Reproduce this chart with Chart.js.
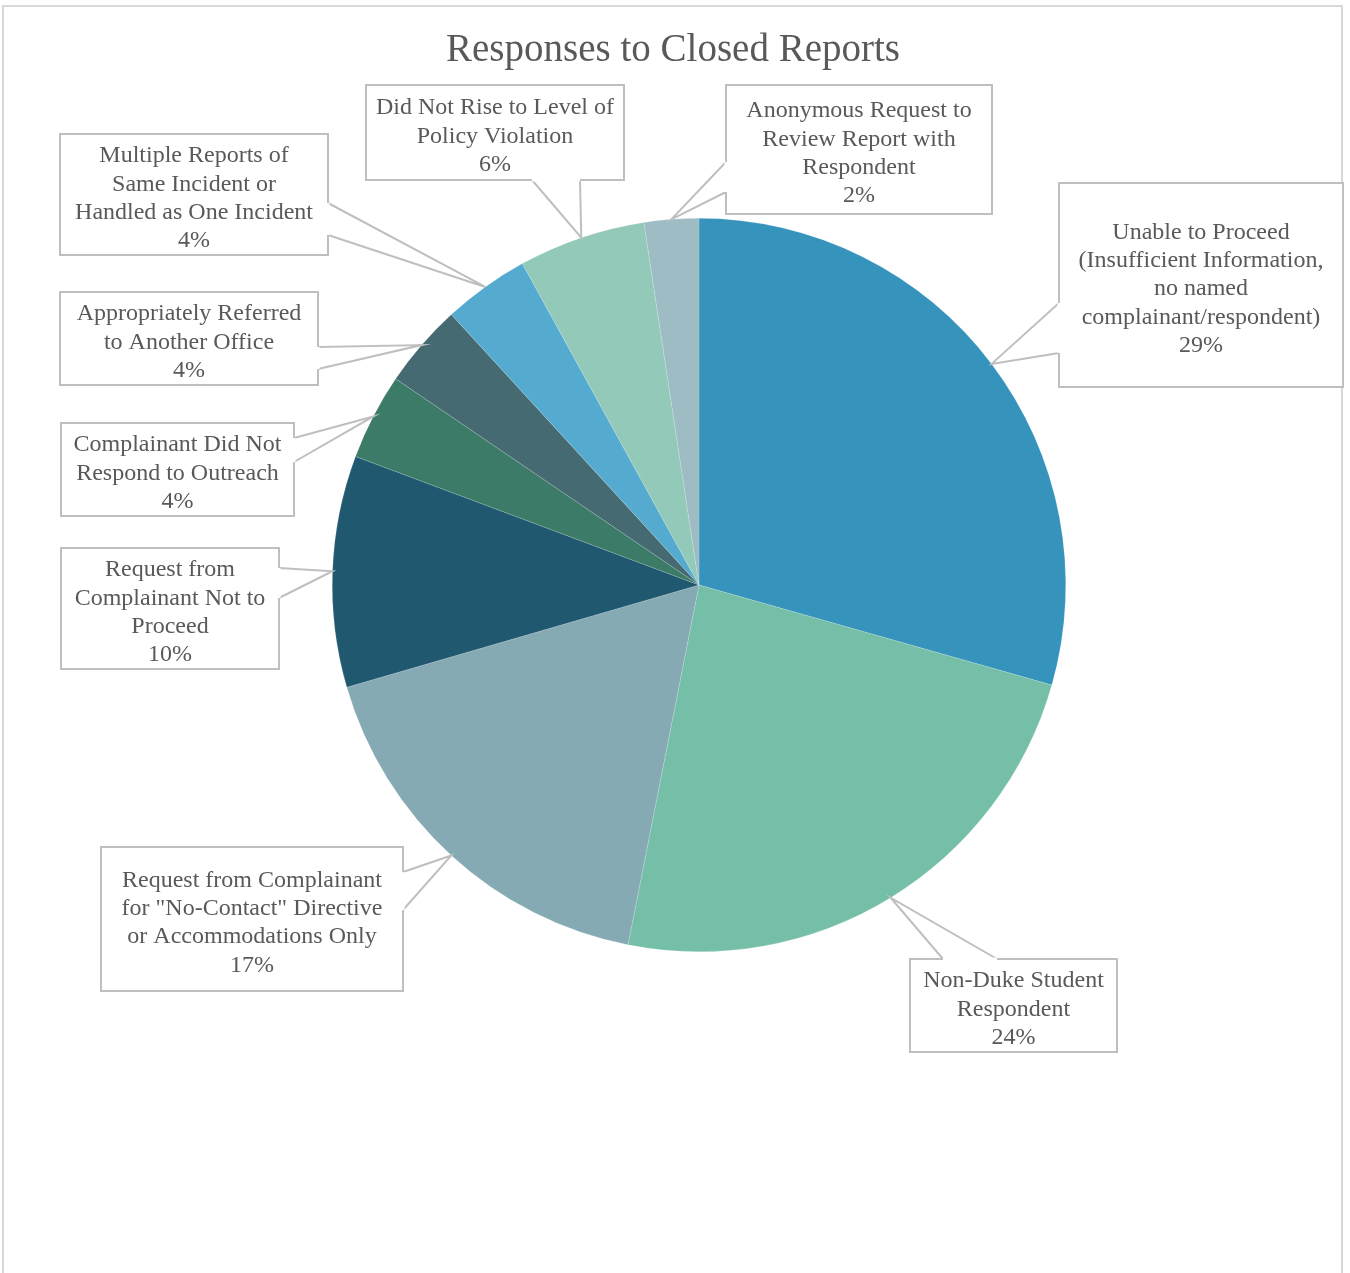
<!DOCTYPE html>
<html lang="en">
<head>
<meta charset="UTF-8">
<title>Responses to Closed Reports</title>
<script src="https://cdn.jsdelivr.net/npm/chart.js"></script>
<style>
    html, body {
        margin: 0;
        padding: 0;
        background: #fff;
    }
    .frame {
        position: absolute;
        left: 2px;
        top: 5px;
        width: 1337px;
        height: 1300px;
        border: 2px solid #d9d9d9;
        border-bottom: none;
    }
    .chart-container {
        position: absolute;
        left: 0;
        top: 0;
        width: 1350px;
        height: 1273px;
    }
</style>
</head>
<body>
<div class="frame"></div>
<div class="chart-container">
    <canvas id="pieChart"></canvas>
</div>

<script>
// data, clockwise from 12 o'clock
const categories = [
    ['Unable to Proceed', '(Insufficient Information,', 'no named', 'complainant/respondent)'],
    ['Non-Duke Student', 'Respondent'],
    ['Request from Complainant', 'for "No-Contact" Directive', 'or Accommodations Only'],
    ['Request from', 'Complainant Not to', 'Proceed'],
    ['Complainant Did Not', 'Respond to Outreach'],
    ['Appropriately Referred', 'to Another Office'],
    ['Multiple Reports of', 'Same Incident or', 'Handled as One Incident'],
    ['Did Not Rise to Level of', 'Policy Violation'],
    ['Anonymous Request to', 'Review Report with', 'Respondent']
];
const shares = [29.4, 23.7, 17.4, 10.2, 3.8, 3.7, 3.8, 5.6, 2.4];
const pctLabels = ['29%', '24%', '17%', '10%', '4%', '4%', '4%', '6%', '2%'];
const sliceColors = ['#3694bc', '#75bea8', '#85aab4', '#20586f', '#3c7b67',
                     '#466a72', '#54abcf', '#93c9b8', '#9dbcc4'];

// callout boxes: [x, y, w, h] and the two points where the pointer leaves the box
const boxes = [
    { r: [1059, 183, 284, 204], base: [[1059, 303], [1059, 353]] },
    { r: [910, 959, 207, 93],   base: [[943, 959], [997, 959]] },
    { r: [101, 847, 302, 144],  base: [[403, 872], [403, 910]] },
    { r: [61, 548, 218, 121],   base: [[279, 568], [279, 598]] },
    { r: [61, 423, 233, 93],    base: [[294, 438], [294, 462]] },
    { r: [60, 292, 258, 93],    base: [[318, 347], [318, 369]] },
    { r: [60, 134, 268, 121],   base: [[328, 203], [328, 235]] },
    { r: [366, 85, 258, 95],    base: [[532, 180], [580, 180]] },
    { r: [726, 85, 266, 129],   base: [[726, 162], [726, 192]] }
];

const FONT = '"Liberation Serif", "DejaVu Serif", serif';
const TEXT_COLOR = '#595959';
const LINE_COLOR = '#bfbfbf';

const calloutPlugin = {
    id: 'callouts',
    afterDraw(chart) {
        const ctx = chart.ctx;
        const arcs = chart.getDatasetMeta(0).data;
        ctx.save();

        // title
        ctx.fillStyle = TEXT_COLOR;
        ctx.font = '39px ' + FONT;
        ctx.textAlign = 'center';
        ctx.textBaseline = 'middle';
        ctx.fillText('Responses to Closed Reports', 673, 51);

        arcs.forEach((arc, i) => {
            const b = boxes[i];
            const mid = (arc.startAngle + arc.endAngle) / 2;
            const tipX = arc.x + Math.cos(mid) * arc.outerRadius;
            const tipY = arc.y + Math.sin(mid) * arc.outerRadius;

            // box
            ctx.fillStyle = '#fff';
            ctx.fillRect(b.r[0], b.r[1], b.r[2], b.r[3]);
            ctx.strokeStyle = LINE_COLOR;
            ctx.lineWidth = 2;
            ctx.strokeRect(b.r[0], b.r[1], b.r[2], b.r[3]);

            // pointer
            ctx.beginPath();
            ctx.moveTo(b.base[0][0], b.base[0][1]);
            ctx.lineTo(tipX, tipY);
            ctx.lineTo(b.base[1][0], b.base[1][1]);
            ctx.stroke();
            // clear the box edge between the pointer's two base points
            ctx.strokeStyle = '#fff';
            ctx.lineWidth = 3;
            ctx.beginPath();
            ctx.moveTo(b.base[0][0], b.base[0][1]);
            ctx.lineTo(b.base[1][0], b.base[1][1]);
            ctx.stroke();

            // text
            const lines = categories[i].concat([pctLabels[i]]);
            const lh = 28.3;
            const cx = b.r[0] + b.r[2] / 2;
            const cy = b.r[1] + b.r[3] / 2 + 4;
            ctx.fillStyle = TEXT_COLOR;
            ctx.font = '24px ' + FONT;
            lines.forEach((t, k) => {
                ctx.fillText(t, cx, cy + (k - (lines.length - 1) / 2) * lh);
            });
        });
        ctx.restore();
    }
};

new Chart(document.getElementById('pieChart'), {
    type: 'pie',
    data: {
        labels: categories,
        datasets: [{
            data: shares,
            backgroundColor: sliceColors,
            borderColor: 'rgba(255,255,255,0.3)',
            borderWidth: 0.5
        }]
    },
    options: {
        responsive: true,
        maintainAspectRatio: false,
        animation: false,
        layout: {
            padding: { left: 332, right: 284, top: 218, bottom: 321 }
        },
        plugins: {
            legend: { display: false },
            title: { display: false },
            tooltip: { enabled: false }
        }
    },
    plugins: [calloutPlugin]
});
</script>
</body>
</html>
